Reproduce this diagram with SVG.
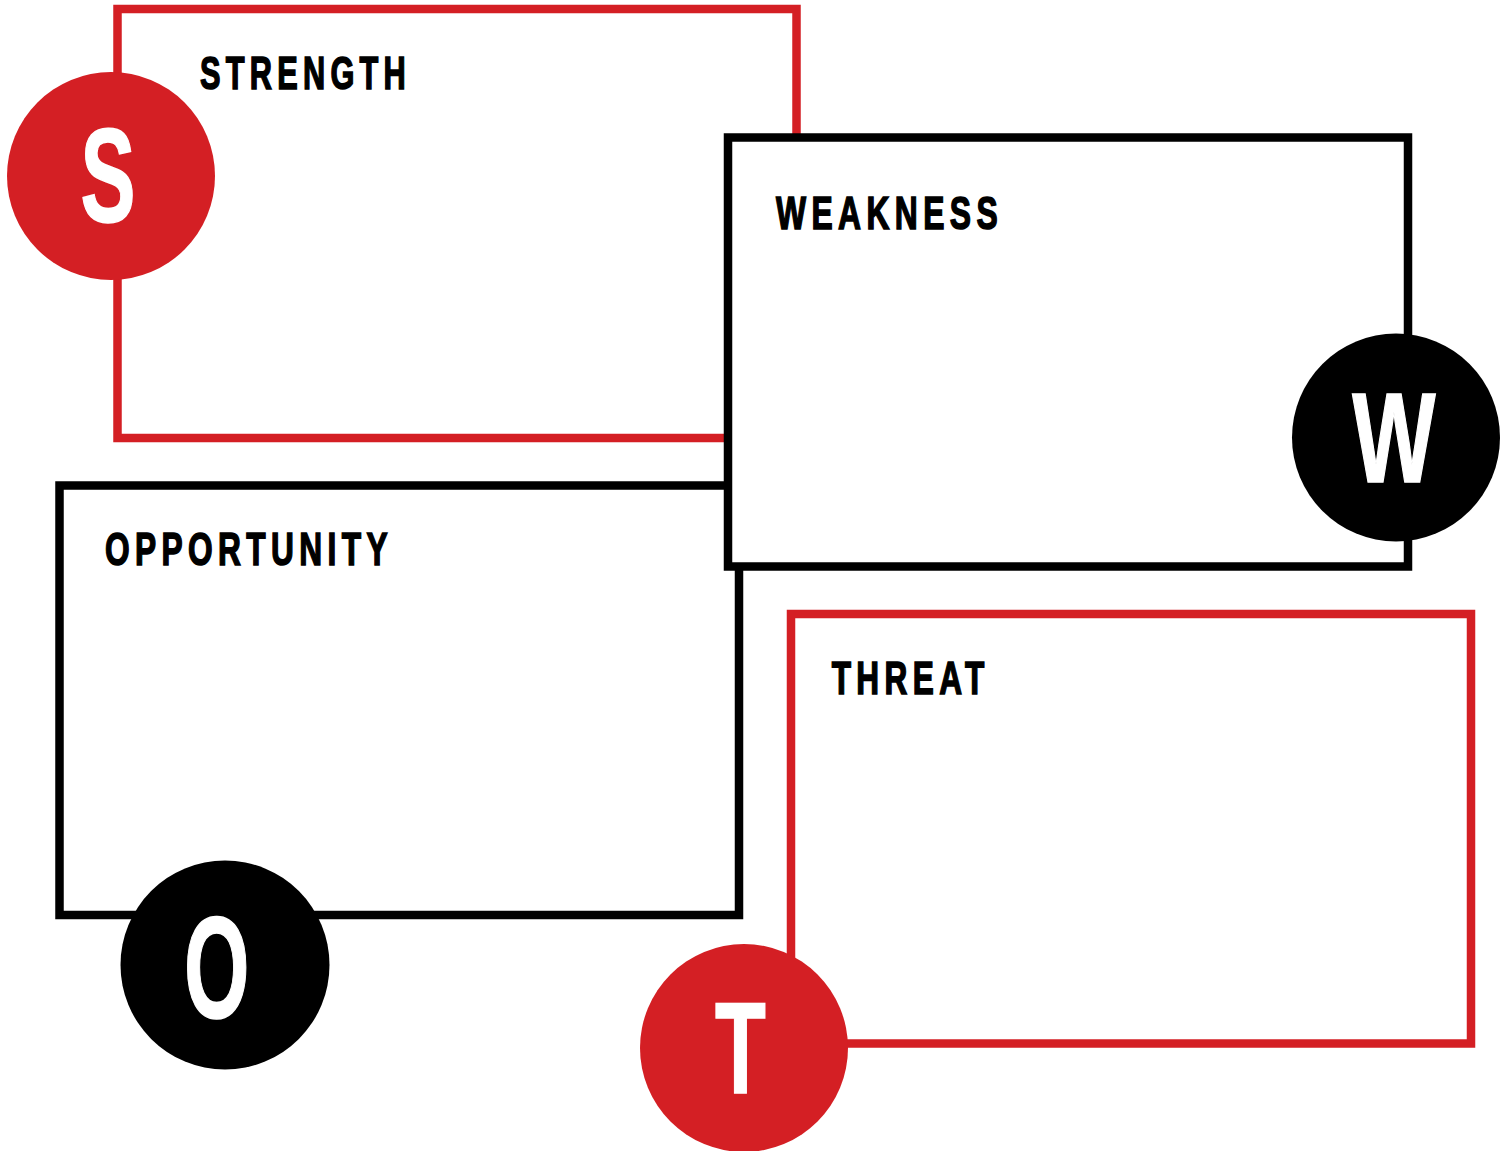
<svg xmlns="http://www.w3.org/2000/svg" width="1510" height="1151" viewBox="0 0 1510 1151">
<style>
.box{fill:#fff;stroke-width:8.5}
.red{stroke:#D41F24}
.blk{stroke:#000}
.cred{fill:#D41F24}
.cblk{fill:#000}
.lbl{font-family:"Liberation Sans","DejaVu Sans",sans-serif;font-weight:bold;font-size:47px;fill:#000;stroke:#000;stroke-width:1.6px;letter-spacing:8px}
.big{font-family:"Liberation Sans","DejaVu Sans",sans-serif;font-weight:bold;fill:#fff;stroke:#fff;stroke-width:1.5px;text-anchor:middle}
</style>
<rect width="1510" height="1151" fill="#fff"/>
<g id="strength">
<rect class="box red" x="117.5" y="9" width="679" height="429"/>
<text class="lbl" x="200" y="89.3" textLength="211" lengthAdjust="spacingAndGlyphs">STRENGTH</text>
<circle class="cred" cx="111" cy="176" r="104"/>
<text class="big" font-size="133" transform="translate(108,222) scale(0.62,1)">S</text>
</g>
<g id="opportunity">
<rect class="box blk" x="59.5" y="485.5" width="679.5" height="429.5"/>
<text class="lbl" x="105" y="565" textLength="288" lengthAdjust="spacingAndGlyphs">OPPORTUNITY</text>
<circle class="cblk" cx="225" cy="965" r="104.5"/>
<text class="big" font-size="145" transform="translate(216.7,1018) scale(0.58,1)">O</text>
</g>
<g id="weakness">
<rect class="box blk" x="728" y="137.5" width="680" height="429"/>
<text class="lbl" x="776" y="229.3" textLength="227" lengthAdjust="spacingAndGlyphs">WEAKNESS</text>
<circle class="cblk" cx="1396" cy="437.5" r="104"/>
<text class="big" font-size="128" transform="translate(1394,482) scale(0.69,1)">W</text>
</g>
<g id="threat">
<rect class="box red" x="791" y="614" width="680" height="429.5"/>
<text class="lbl" x="831.7" y="694.3" textLength="158" lengthAdjust="spacingAndGlyphs">THREAT</text>
<circle class="cred" cx="744" cy="1048" r="104"/>
<text class="big" font-size="130" transform="translate(740.3,1092.7) scale(0.64,1)">T</text>
</g>
<g id="connectors"/>
</svg>
